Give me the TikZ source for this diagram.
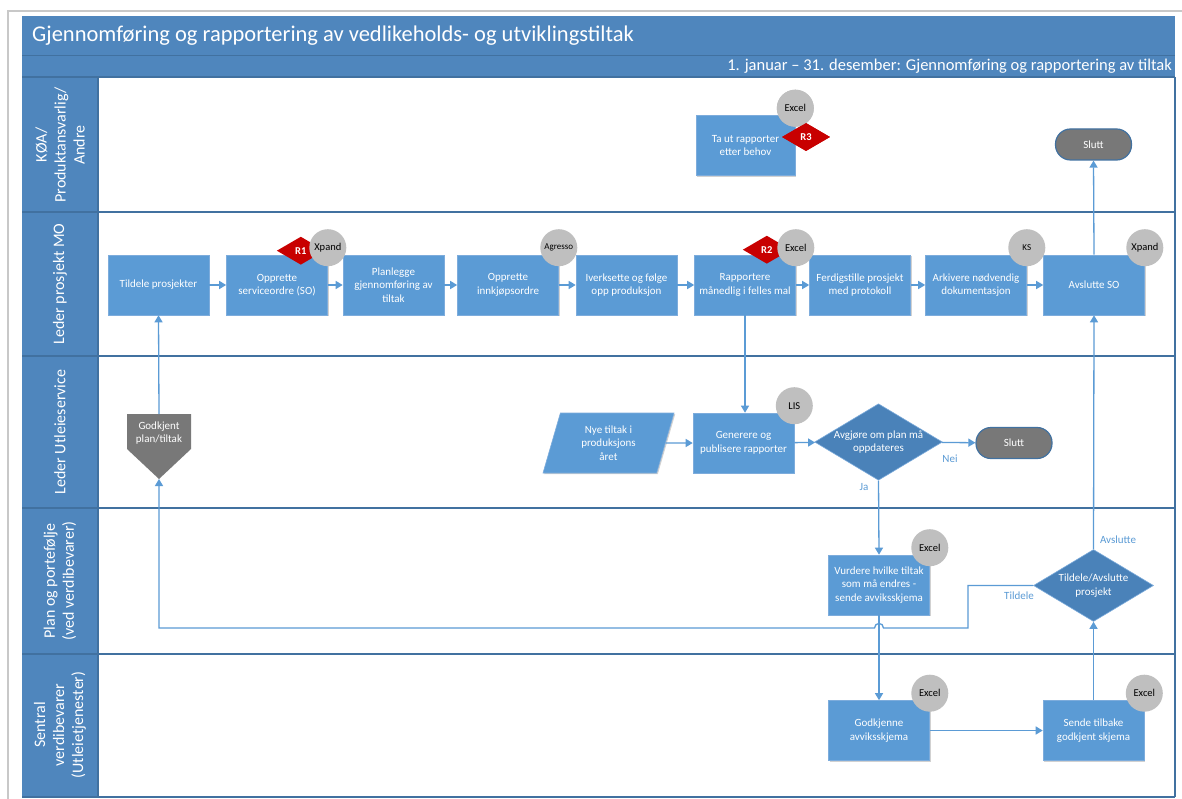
\documentclass[tikz,border=0pt]{standalone}
\usepackage{fontspec}
\setmainfont{Carlito}
\usetikzlibrary{shapes.geometric,arrows.meta,shadows,calc}

\definecolor{headblue}{RGB}{79,134,189}
\definecolor{lanedark}{RGB}{65,113,160}
\definecolor{boxblue}{RGB}{91,155,213}
\definecolor{boxedge}{RGB}{125,172,220}
\definecolor{decblue}{RGB}{74,130,185}
\definecolor{toolgray}{RGB}{191,191,191}
\definecolor{termgray}{RGB}{120,120,120}
\definecolor{flagred}{RGB}{200,0,0}
\definecolor{connblue}{RGB}{91,155,213}
\definecolor{pagegray}{RGB}{200,200,200}

\newcommand\titlefont{\fontsize{22.5}{26}\selectfont}
\newcommand\periodfont{\fontsize{16.5}{19}\selectfont}
\newcommand\lanefont{\fontsize{16}{19}\selectfont}
\newcommand\procfont{\fontsize{11}{13.5}\selectfont}
\newcommand\toolfont{\fontsize{10.5}{12}\selectfont}
\newcommand\smalltoolfont{\fontsize{9}{10}\selectfont}
\newcommand\edgefont{\fontsize{11}{12}\selectfont}

\tikzset{
  lanelabel/.style={rotate=90, align=center, text=white, font=\lanefont},
  lanesep/.style={draw=lanedark, line width=1.2pt},
  proc/.style={rectangle, fill=boxblue, draw=boxedge, line width=0.6pt,
    minimum width=101pt, minimum height=60pt, inner sep=1pt,
    align=center, text=white, font=\procfont,
    drop shadow={shadow xshift=1.2pt, shadow yshift=-1.2pt, opacity=0.18, fill=black}},
  decision/.style={diamond, fill=decblue, draw=boxedge, line width=0.6pt,
    minimum width=121pt, minimum height=72pt, inner sep=0pt, aspect=1.67,
    align=center, text=white, font=\procfont},
  term/.style={rectangle, rounded corners=15pt, fill=termgray, draw=lanedark,
    line width=1.2pt, minimum width=76pt, minimum height=31pt,
    text=white, font=\procfont},
  tool/.style={circle, fill=toolgray, minimum size=37pt, inner sep=0pt,
    text=black, font=\toolfont},
  rflag/.style={diamond, fill=flagred, minimum width=48pt, minimum height=28pt,
    inner sep=0pt, aspect=1.7, text=white, font=\toolfont\bfseries},
  conn/.style={draw=connblue, line width=1.3pt,
    -{Triangle[length=7pt,width=8pt]}},
  edgelabel/.style={text=connblue, font=\edgefont, inner sep=1pt}
}

\begin{document}
\begin{tikzpicture}[x=1pt,y=-1pt]
\useasboundingbox (0,0) rectangle (1182,799);
\fill[white] (0,0) rectangle (1182,799);

% page edge
\draw[pagegray, line width=2.5pt] (8,799) -- (8,11) -- (1182,11);

% title and period bar
\fill[headblue] (22,16) rectangle (1175,77);
\draw[lanedark, line width=0.8pt] (22,55) -- (1175,55);
\node[anchor=west, text=white, font=\titlefont, inner sep=0pt] (title) at (32,36)
  {Gjennomføring og rapportering av vedlikeholds- og utviklingstiltak};
\node[anchor=east, text=white, font=\periodfont, inner sep=0pt] (period) at (1172,66)
  {1. januar – 31. desember: Gjennomføring og rapportering av tiltak};

% lane header column and lane separators
\fill[headblue] (22,77) rectangle (98,797);
\foreach \yy in {77,212,356,508,654,797} {
  \draw[lanesep] (22,\yy) -- (1175,\yy);
}
\draw[lanesep] (98,77) -- (98,797);
\draw[lanesep] (1175,77) -- (1175,797);

\node[lanelabel] (lane1) at (60,145) {KØA/\\Produktansvarlig/\\Andre};
\node[lanelabel] (lane2) at (60,284) {Leder prosjekt MO};
\node[lanelabel] (lane3) at (60,432) {Leder Utleieservice};
\node[lanelabel] (lane4) at (60,581) {Plan og portefølje\\(ved verdibevarer)};
\node[lanelabel] (lane5) at (60,725) {Sentral\\verdibevarer\\(Utleietjenester)};

% lane 1: KØA / Produktansvarlig / Andre
\node[proc, minimum width=99pt] (tarap) at (745.5,145.5) {Ta ut rapporter\\etter behov};
\node[tool] (tarapTool) at ($(tarap.north east)+(0,-7)$) {Excel};
\node[rflag] (r3) at (806,137) {R3};
\node[term] (slutt1) at (1093.5,144.5) {Slutt};

% lane 2: Leder prosjekt MO
\node[proc] (tildele) at (158.5,285) {Tildele prosjekter};
\node[proc] (oppso)   at (277,285)   {Opprette\\serviceordre (SO)};
\node[proc] (planl)   at (393.5,285) {Planlegge\\gjennomføring av\\tiltak};
\node[proc] (innkj)   at (508,285)   {Opprette\\innkjøpsordre};
\node[proc] (iverk)   at (626.5,285) {Iverksette og følge\\opp produksjon};
\node[proc] (rapp)    at (745,285)   {Rapportere\\månedlig i felles mal};
\node[proc] (ferdig)  at (860,285)   {Ferdigstille prosjekt\\med protokoll};
\node[proc] (arkiv)   at (976,285)   {Arkivere nødvendig\\dokumentasjon};
\node[proc] (avsso)   at (1094,285)  {Avslutte SO};

\node[rflag] (r1) at ($(oppso.north east)+(-27,-4)$) {R1};
\node[rflag] (r2) at ($(rapp.north east)+(-29,-5)$) {R2};
\node[tool] (oppsoTool) at ($(oppso.north east)+(0,-7)$) {Xpand};
\node[tool, font=\smalltoolfont] (innkjTool) at ($(innkj.north east)+(0,-7)$) {Agresso};
\node[tool] (rappTool) at ($(rapp.north east)+(0,-7)$) {Excel};
\node[tool, font=\smalltoolfont] (arkivTool) at ($(arkiv.north east)+(0,-7)$) {KS};
\node[tool] (avssoTool) at ($(avsso.north east)+(0,-7)$) {Xpand};

% lane 3: Leder Utleieservice
\fill[termgray] (127,414) -- (191,414) -- (191,449) -- (159,479) -- (127,449) -- cycle;
\node[align=center, text=white, font=\procfont] (godkjent) at (159,433) {Godkjent\\plan/tiltak};
\coordinate (godkTop) at (159,414);
\coordinate (godkTip) at (159,479);

\node[trapezium, trapezium left angle=63.4, trapezium right angle=116.6,
  trapezium stretches body=true, minimum width=131pt, minimum height=60pt,
  fill=boxblue, draw=boxedge, line width=0.6pt, inner sep=0pt,
  align=center, text=white, font=\procfont,
  drop shadow={shadow xshift=1.2pt, shadow yshift=-1.2pt, opacity=0.18, fill=black}]
  (nye) at (608.5,443) {Nye tiltak i\\produksjons\\året};
\node[proc] (gener) at (743.5,443) {Generere og\\publisere rapporter};
\node[tool] (generTool) at ($(gener.north east)+(0,-7)$) {LIS};
\node[decision] (avgj) at (878.5,442) {Avgjøre om plan må\\oppdateres};
\node[term] (slutt2) at (1014,443) {Slutt};

% lane 4: Plan og portefølje
\node[proc] (vurd) at (879,585) {Vurdere hvilke tiltak\\som må endres -\\sende avviksskjema};
\node[tool] (vurdTool) at ($(vurd.north east)+(0,-7)$) {Excel};
\node[decision, minimum width=120pt] (tildav) at (1093.5,585.5) {Tildele/Avslutte\\prosjekt};

% lane 5: Sentral verdibevarer
\node[proc] (godkj) at (879,730.5) {Godkjenne\\avviksskjema};
\node[tool] (godkjTool) at ($(godkj.north east)+(0,-7)$) {Excel};
\node[proc] (sende) at (1093.5,730.5) {Sende tilbake\\godkjent skjema};
\node[tool] (sendeTool) at ($(sende.north east)+(0,-7)$) {Excel};

% connectors along lane 2
\draw[conn] (tildele) -- (oppso);
\draw[conn] (oppso) -- (planl);
\draw[conn] (planl) -- (innkj);
\draw[conn] (innkj) -- (iverk);
\draw[conn] (iverk) -- (rapp);
\draw[conn] (rapp) -- (ferdig);
\draw[conn] (ferdig) -- (arkiv);
\draw[conn] (arkiv) -- (avsso);

% reporting flow
\draw[conn] (rapp.south) -- (rapp.south |- gener.north);
\draw[conn] (nye) -- (gener);
\draw[conn] (gener) -- (avgj);
\draw[conn] (avgj) -- (slutt2);
\node[edgelabel] (nei) at (950,459) {Nei};
\draw[conn] (avgj.south) -- (vurd.north);
\node[edgelabel] (ja) at (864,487) {Ja};

% deviation handling
\draw[conn] (vurd.south) -- (godkj.north);
\draw[conn] (godkj) -- (sende);
\draw[conn] (sende.north) -- (tildav.south);
\draw[conn] (tildav.north) -- (avsso.south);
\node[edgelabel] (avsl) at (1118,540) {Avslutte};
\draw[conn] (avsso.north) -- (slutt1.south);

% back to project assignment
\coordinate (tBend1) at (968,585.5);
\coordinate (tBend2) at (968,628);
\coordinate (tBend3) at (159,628);
\draw[conn] (tildav.west) -- (tBend1) -- (tBend2) -- (883.5,628)
  .. controls (883.5,622) and (874.5,622) .. (874.5,628) -- (tBend3) -- (godkTip);
\node[edgelabel] (tild) at (1019,596) {Tildele};
\draw[conn] (godkTop) -- (tildele.south);

% tool and risk markers drawn on top
\node[tool] at (tarapTool) {Excel};
\node[rflag] at (r3) {R3};
\end{tikzpicture}
\end{document}
